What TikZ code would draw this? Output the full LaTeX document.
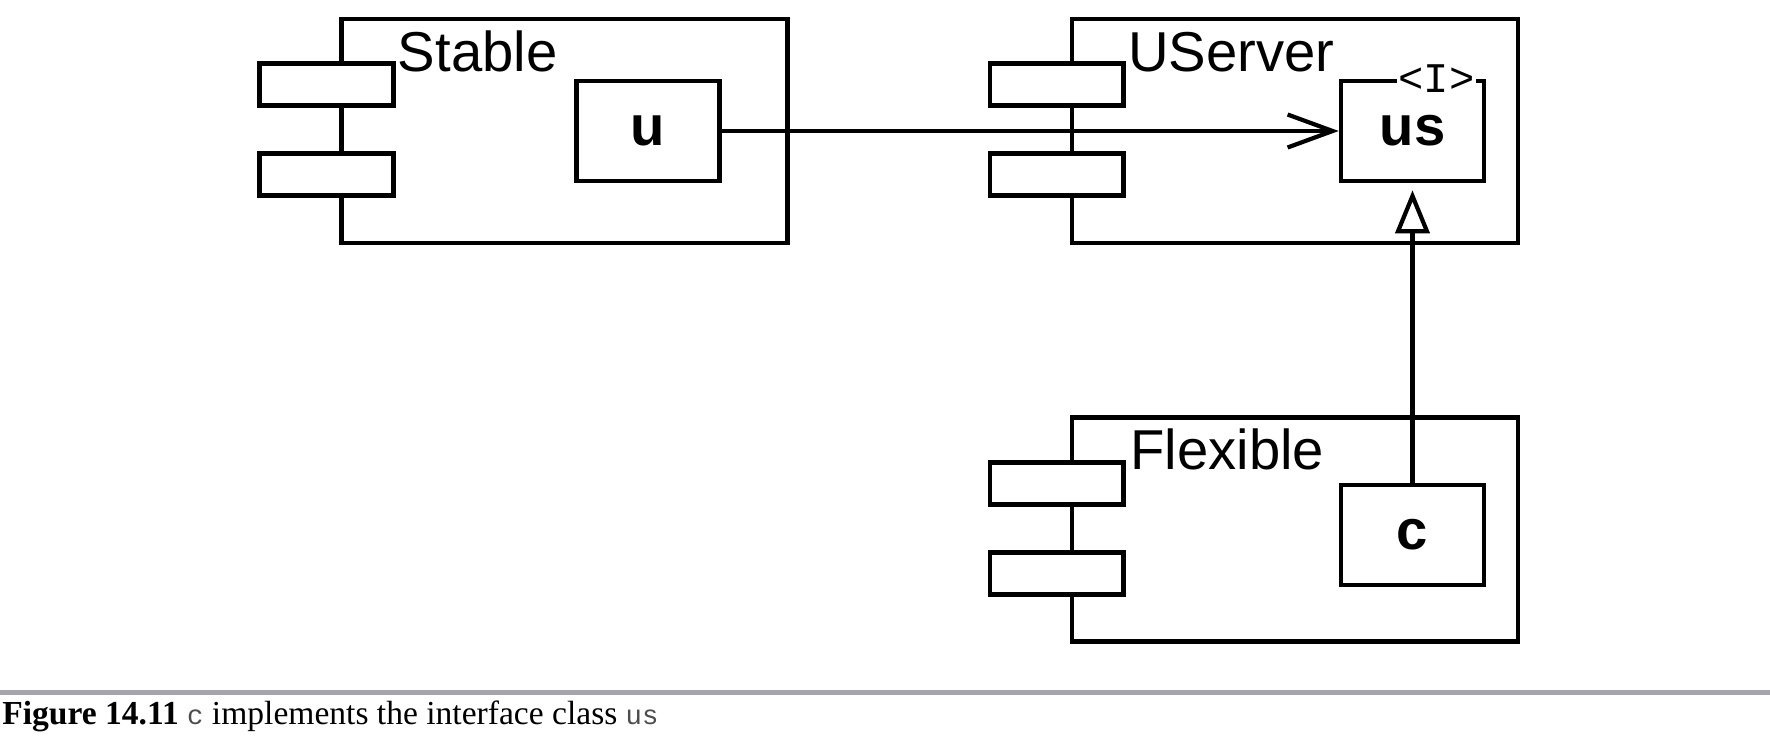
\documentclass[tikz,border=0pt]{standalone}
\usepackage{fontspec}
\setmainfont{Liberation Sans}
\setmonofont{Liberation Mono}
\newfontfamily\capfont{Liberation Serif}
\newfontfamily\capmono{Liberation Mono}
\usetikzlibrary{positioning, arrows.meta}
\definecolor{rulegray}{RGB}{166,166,170}
\tikzset{
    base/.style={draw, line width=2.6pt, inner sep=0pt},
    comp/.style={base, rectangle, minimum width=8.92cm, minimum height=4.48cm},
    tab/.style={base, rectangle, fill=white, minimum width=2.68cm, minimum height=0.84cm},
    classbox/.style={base, rectangle, minimum width=2.86cm, minimum height=2cm, font=\fontsize{32}{36}\selectfont\bfseries},
    compname/.style={inner sep=0pt, anchor=base west, font=\fontsize{32}{36}\selectfont},
    stereo/.style={fill=white, inner sep=1pt, font=\ttfamily\fontsize{24}{26}\selectfont},
    assoc/.style={-{Straight Barb[length=0.9cm, width=0.66cm]}, line width=2.4pt},
    realize/.style={-{Triangle[open, length=0.86cm, width=0.68cm]}, line width=2.4pt, shorten >=0.14cm},
    rule/.style={draw=rulegray, line width=2.8pt},
    caption/.style={inner sep=0pt, anchor=base west, font=\capfont\fontsize{19.1}{21}\selectfont}
}
\newcommand{\capcode}[1]{{\capmono\fontsize{15.5}{17}\selectfont\color{black!70}#1}}

\begin{document}
\begin{tikzpicture}[x=0.02cm, y=-0.02cm]
    \useasboundingbox (0,0) rectangle (1770,752);
    % Components
    \node [comp] (stable) at (564.5,131) {};
    \node [comp] (userver) at (1295,131) {};
    \node [comp] (flexible) at (1295,529.5) {};

    % Component tabs
    \foreach \comp in {stable, userver, flexible} {
        \node [tab] (\comp-tabA) at ([xshift=-0.26cm, yshift=-1.36cm]\comp.north west) {};
        \node [tab] (\comp-tabB) at ([xshift=-0.26cm, yshift=-3.16cm]\comp.north west) {};
    }

    \node [compname] (stablename) at ([xshift=0.04cm, yshift=-0.2cm]stable-tabA.north east) {Stable};
    \node [compname] (uservername) at ([xshift=0.04cm, yshift=-0.2cm]userver-tabA.north east) {UServer};
    \node [compname] (flexiblename) at ([xshift=0.08cm, yshift=-0.2cm]flexible-tabA.north east) {Flexible};

    % Classes
    \node [classbox, left=1.36cm of stable.east] (u) {u};
    \node [classbox, left=0.68cm of userver.east] (us) {us};
    \node [classbox, left=0.68cm of flexible.east, yshift=-0.11cm] (c) {c};
    \node [stereo] (usstereo) at ([xshift=0.48cm]us.north) {<I>};

    % Connections
    \draw [assoc] (u) -- (us);
    \draw [realize] (c) -- (us);

    % Caption
    \draw [rule] (0,692.5) -- (1770,692.5);
    \node [caption] (cap) at (2,724) {{\bfseries Figure 14.11} \capcode{c} implements the interface class \capcode{us}};
\end{tikzpicture}
\end{document}
